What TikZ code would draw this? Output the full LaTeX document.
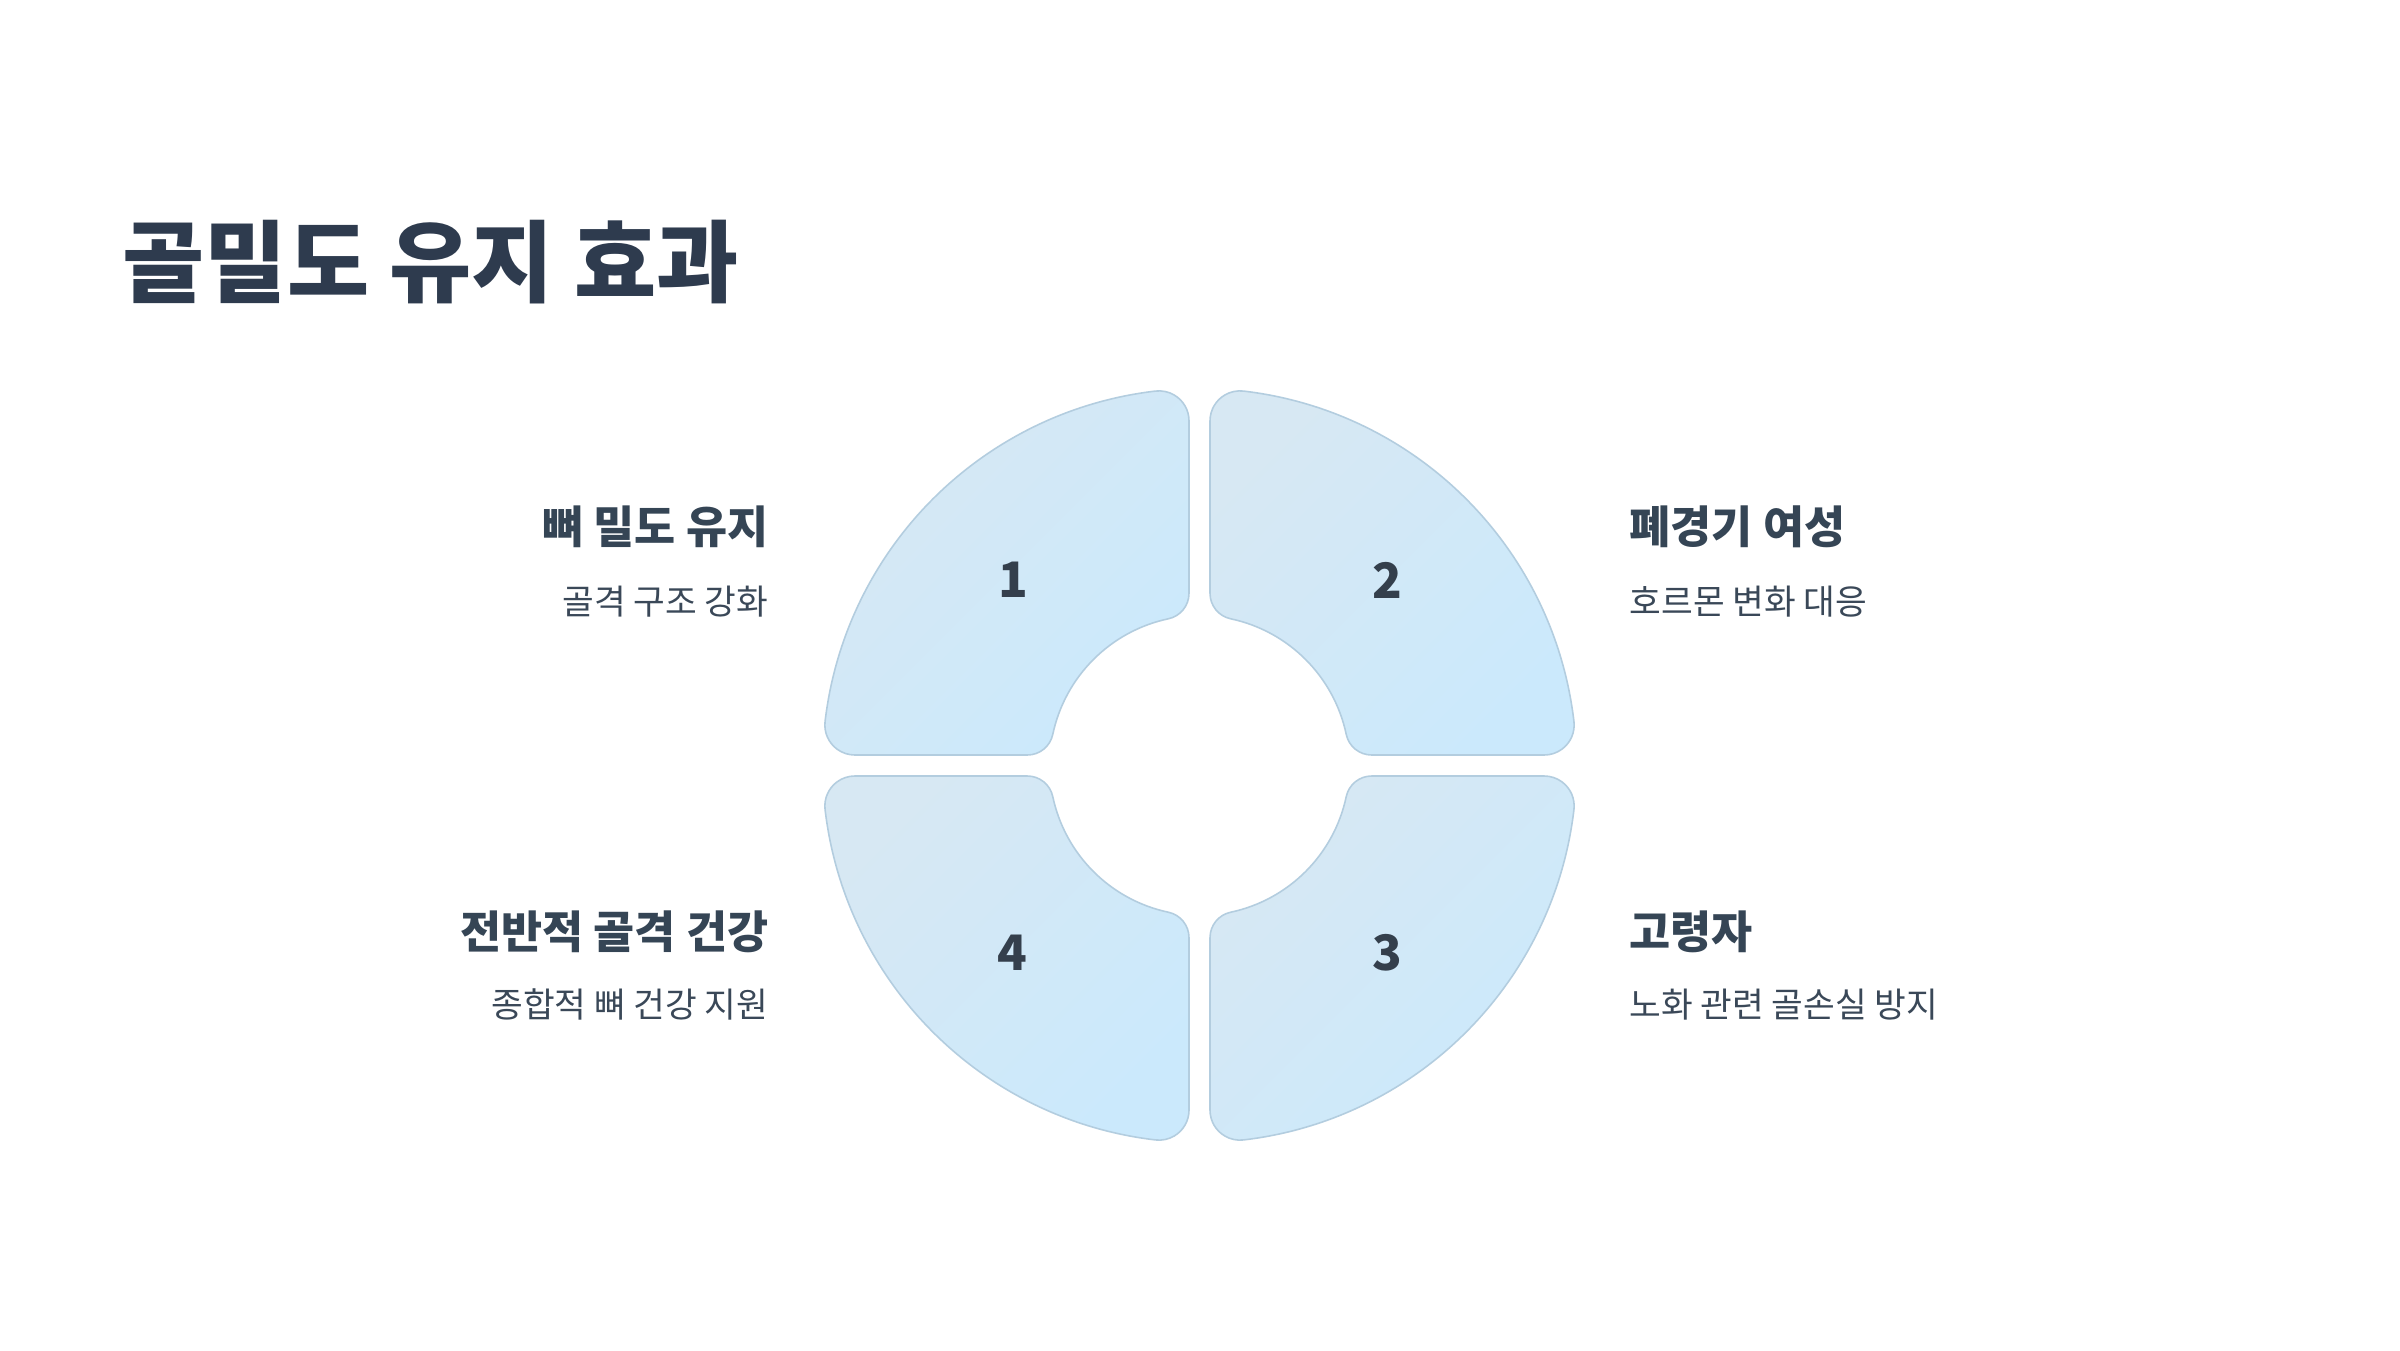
\documentclass[tikz,border=0pt]{standalone}
\usepackage{fontspec}
\newfontfamily\krfont{Noto Sans CJK KR}
\definecolor{titlecol}{HTML}{2E3B4E}
\definecolor{headcol}{HTML}{354555}
\definecolor{subcol}{HTML}{3A4858}
\definecolor{numcol}{HTML}{343F4C}
\definecolor{qtop}{HTML}{D7E8F3}
\definecolor{qbot}{HTML}{CBE9FC}
\definecolor{qstroke}{HTML}{B3CDDF}
\tikzset{
  quad/.style={draw=qstroke, line width=0.45pt, top color=qtop, bottom color=qbot, shading angle=45},
  titletext/.style={inner sep=0pt, text=titlecol, font=\krfont\bfseries\fontsize{25.4pt}{30pt}\selectfont},
  headtext/.style={inner sep=0pt, text=headcol, font=\krfont\bfseries\fontsize{12.7pt}{15pt}\selectfont},
  subtext/.style={inner sep=0pt, text=subcol, font=\krfont\fontsize{9.8pt}{12pt}\selectfont},
  numtext/.style={inner sep=0pt, text=numcol, font=\krfont\bfseries\fontsize{13.9pt}{16pt}\selectfont}
}
\begin{document}
\begin{tikzpicture}[x=0.01cm,y=0.01cm]
\fill[white] (0,0) rectangle (2400,1350);
\useasboundingbox (0,0) rectangle (2400,1350);

\node[titletext, anchor=base west] (title) at (122,1055) {골밀도 유지 효과};

\begin{scope}[shift={(1199.5,584.5)}]
% Q1 top-left
\path[quad] (-10.5,172.17) -- (-10.5,344.63)
  arc[start angle=0,end angle=96.70,radius=30]
  arc[start angle=96.70,end angle=173.30,radius=377]
  arc[start angle=173.30,end angle=270,radius=30]
  -- (-172.17,10.5)
  arc[start angle=270,end angle=348.03,radius=26]
  arc[start angle=168.03,end angle=101.97,radius=150]
  arc[start angle=281.97,end angle=360,radius=26] -- cycle;
% Q2 top-right
\path[quad] (10.5,172.17) -- (10.5,344.63)
  arc[start angle=180,end angle=83.30,radius=30]
  arc[start angle=83.30,end angle=6.70,radius=377]
  arc[start angle=6.70,end angle=-90,radius=30]
  -- (172.17,10.5)
  arc[start angle=-90,end angle=-168.03,radius=26]
  arc[start angle=11.97,end angle=78.03,radius=150]
  arc[start angle=-101.97,end angle=-180,radius=26] -- cycle;
% Q3 bottom-right
\path[quad] (10.5,-172.17) -- (10.5,-344.63)
  arc[start angle=180,end angle=276.70,radius=30]
  arc[start angle=276.70,end angle=353.30,radius=377]
  arc[start angle=353.30,end angle=450,radius=30]
  -- (172.17,-10.5)
  arc[start angle=450,end angle=528.03,radius=26]
  arc[start angle=348.03,end angle=281.97,radius=150]
  arc[start angle=461.97,end angle=540,radius=26] -- cycle;
% Q4 bottom-left
\path[quad] (-10.5,-172.17) -- (-10.5,-344.63)
  arc[start angle=0,end angle=-96.70,radius=30]
  arc[start angle=-96.70,end angle=-173.30,radius=377]
  arc[start angle=-173.30,end angle=-270,radius=30]
  -- (-172.17,-10.5)
  arc[start angle=-270,end angle=-348.03,radius=26]
  arc[start angle=-168.03,end angle=-101.97,radius=150]
  arc[start angle=-281.97,end angle=-360,radius=26] -- cycle;

\node[numtext] (n1) at (-186.5,185.5) {1};
\node[numtext] (n2) at (187.5,185.5) {2};
\node[numtext] (n3) at (187.5,-187.5) {3};
\node[numtext] (n4) at (-187.5,-187.5) {4};
\end{scope}

\node[headtext, anchor=base east] (h1) at (769,807) {뼈 밀도 유지};
\node[subtext, anchor=base east] (s1) at (769,736) {골격 구조 강화};
\node[headtext, anchor=base west] (h2) at (1629,807) {폐경기 여성};
\node[subtext, anchor=base west] (s2) at (1629,736) {호르몬 변화 대응};
\node[headtext, anchor=base west] (h3) at (1629,402) {고령자};
\node[subtext, anchor=base west] (s3) at (1629,333) {노화 관련 골손실 방지};
\node[headtext, anchor=base east] (h4) at (769,402) {전반적 골격 건강};
\node[subtext, anchor=base east] (s4) at (769,333) {종합적 뼈 건강 지원};
\end{tikzpicture}
\end{document}
